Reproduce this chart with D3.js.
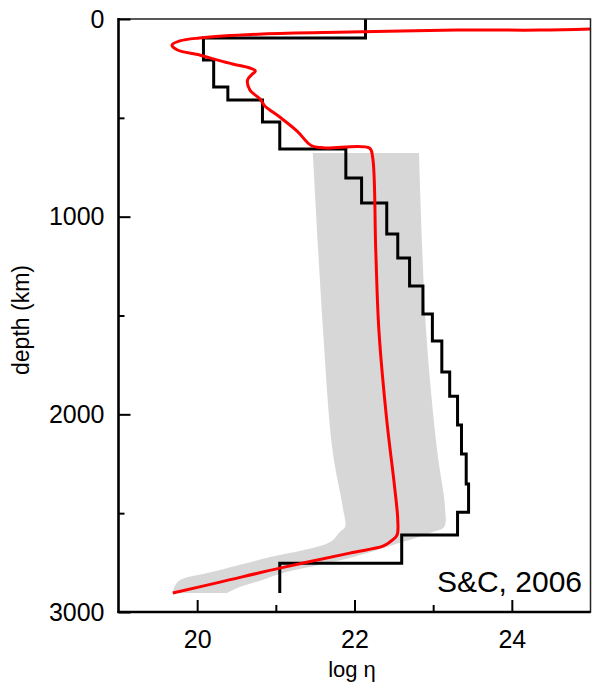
<!DOCTYPE html>
<html>
<head>
<meta charset="utf-8">
<script src="https://cdn.jsdelivr.net/npm/d3@7"></script>
<style>
  html, body { margin: 0; padding: 0; background: #fff; }
  svg { display: block; font-family: "Liberation Sans", Arial, sans-serif; }
</style>
</head>
<body>
<svg id="chart" width="592" height="690"></svg>
<script>
// ---- data ----
// Black step model: layer top depths (km) and log viscosity values
const stepTops   = [0, 96, 207, 344, 410, 521, 658, 805, 931, 1088, 1209, 1351, 1493, 1629, 1786, 1908, 2054, 2201, 2353, 2495, 2611, 2753];
const stepValues = [22.14, 20.08, 20.21, 20.39, 20.83, 21.05, 21.89, 22.09, 22.41, 22.55, 22.70, 22.87, 22.99, 23.11, 23.21, 23.31, 23.36, 23.42, 23.45, 23.31, 22.60, 21.05];
const stepBottom = 2904;

// Red profile: depth (km) and log viscosity
const redDepth = [50, 56, 56, 66, 76, 96, 111, 132, 157, 182, 207, 228, 248, 263, 283, 309, 359, 405, 440, 496, 567, 640, 652, 653, 698, 1169, 1574, 2029, 2368, 2535, 2611, 2646, 2667, 2702, 2778, 2849, 2904];
const redValue = [25.0, 24.36, 23.30, 21.94, 20.83, 20.03, 19.78, 19.68, 19.75, 20.03, 20.25, 20.45, 20.67, 20.74, 20.69, 20.64, 20.67, 20.80, 20.86, 21.05, 21.27, 21.45, 21.62, 22.19, 22.23, 22.27, 22.31, 22.41, 22.51, 22.55, 22.54, 22.45, 22.36, 21.94, 21.05, 20.29, 19.69];

// Grey band: depth and lower / upper bounds
const bandDepth = [678, 1574, 2181, 2469, 2570, 2596, 2646, 2727, 2803, 2839, 2874, 2904];
const bandLow   = [21.47, 21.60, 21.72, 21.85, 21.88, 21.81, 21.69, 20.88, 20.13, 19.78, 19.71, 19.69];
const bandHigh  = [22.82, 22.91, 23.05, 23.15, 23.14, 22.99, 22.61, 21.94, 21.09, 20.82, 20.54, 20.38];

const xMajorTicks = [20, 22, 24];
const xMinorTicks = [21, 23];
const yMajorTicks = [0, 1000, 2000, 3000];
const yMinorTicks = [500, 1500, 2500];
const xLabel = "log η";
const yLabel = "depth (km)";
const annotation = "S&C, 2006";

// ---- layout ----
const L = 118.5, R = 590.5, T = 19, B = 612;
const svg = d3.select("#chart");
const x = d3.scaleLinear().domain([19, 25]).range([L, R]);
const y = d3.scaleLinear().domain([0, 3000]).range([T, B]);

svg.append("defs").append("clipPath").attr("id", "clip")
  .append("rect").attr("x", L).attr("y", T).attr("width", R - L).attr("height", B - T);

const plot = svg.append("g").attr("clip-path", "url(#clip)");

// grey band
const band = bandDepth.map((d, i) => ({ d, lo: bandLow[i], hi: bandHigh[i] }));
plot.append("path")
  .datum(band)
  .attr("fill", "#d7d7d7")
  .attr("d", d3.area().y(d => y(d.d)).x0(d => x(d.lo)).x1(d => x(d.hi)).curve(d3.curveCatmullRom.alpha(0.5)));

// black step model
const stepPts = [];
stepValues.forEach((v, i) => {
  const top = stepTops[i];
  const bot = i + 1 < stepTops.length ? stepTops[i + 1] : stepBottom;
  stepPts.push([v, top], [v, bot]);
});
plot.append("path")
  .datum(stepPts)
  .attr("fill", "none")
  .attr("stroke", "#000")
  .attr("stroke-width", 3)
  .attr("stroke-linejoin", "miter")
  .attr("d", d3.line().x(p => x(p[0])).y(p => y(p[1])));

// red profile
const red = redDepth.map((d, i) => [redValue[i], d]);
plot.append("path")
  .datum(red)
  .attr("fill", "none")
  .attr("stroke", "#ff0000")
  .attr("stroke-width", 3)
  .attr("stroke-linejoin", "round")
  .attr("d", d3.line().x(p => x(p[0])).y(p => y(p[1])).curve(d3.curveCatmullRom.alpha(0.5)));

// frame
svg.append("rect").attr("x", L).attr("y", T).attr("width", R - L).attr("height", B - T)
  .attr("fill", "none").attr("stroke", "#222").attr("stroke-width", 1.5);
svg.append("line").attr("x1", L).attr("x2", L).attr("y1", T - 1).attr("y2", B + 1)
  .attr("stroke", "#000").attr("stroke-width", 2.5);
svg.append("line").attr("x1", L - 1).attr("x2", R).attr("y1", B).attr("y2", B)
  .attr("stroke", "#000").attr("stroke-width", 2.5);

// axes
function styleAxis(g) {
  g.select(".domain").remove();
  g.selectAll(".tick line").attr("stroke", "#000").attr("stroke-width", 2);
  g.selectAll(".tick text").attr("fill", "#000").style("font-size", "25px")
    .style("font-family", "'Liberation Sans', Arial, sans-serif");
}
svg.append("g").attr("transform", `translate(${L},0)`)
  .call(d3.axisLeft(y).tickValues(yMajorTicks).tickSize(-12).tickPadding(14).tickFormat(d3.format("d")))
  .call(styleAxis);
svg.append("g").attr("transform", `translate(${L},0)`)
  .call(d3.axisLeft(y).tickValues(yMinorTicks).tickSize(-6).tickFormat(""))
  .call(styleAxis);
svg.append("g").attr("transform", `translate(0,${B})`)
  .call(d3.axisBottom(x).tickValues(xMajorTicks).tickSize(-12).tickPadding(18).tickFormat(d3.format("d")))
  .call(styleAxis);
svg.append("g").attr("transform", `translate(0,${B})`)
  .call(d3.axisBottom(x).tickValues(xMinorTicks).tickSize(-7).tickFormat(""))
  .call(styleAxis);

// labels
svg.append("text").attr("x", 352).attr("y", 677).attr("text-anchor", "middle")
  .style("font-size", "22px").attr("fill", "#000").text(xLabel);
svg.append("text").attr("transform", "translate(29,320) rotate(-90)").attr("text-anchor", "middle")
  .style("font-size", "23px").attr("fill", "#000").text(yLabel);
svg.append("text").attr("x", 582).attr("y", 592).attr("text-anchor", "end")
  .style("font-size", "30px").attr("fill", "#000").text(annotation);
</script>
</body>
</html>
